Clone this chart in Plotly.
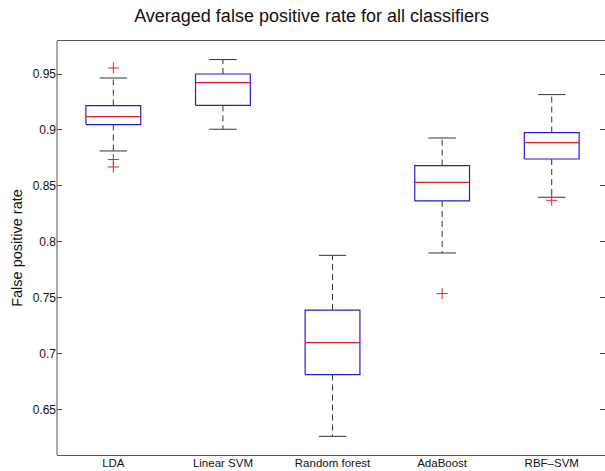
import plotly.graph_objects as go

categories = ["LDA", "Linear SVM", "Random forest", "AdaBoost", "RBF\u2013SVM"]
lower_whisker = [0.8812, 0.9006, 0.6261, 0.7900, 0.8398]
q1 = [0.9048, 0.9220, 0.6813, 0.8365, 0.8740]
median = [0.9119, 0.9423, 0.7099, 0.8532, 0.8887]
q3 = [0.9218, 0.9500, 0.7390, 0.8681, 0.8976]
upper_whisker = [0.9464, 0.9629, 0.7879, 0.8928, 0.9316]
outlier_cat = [0, 0, 0, 3, 4]
outlier_val = [0.9554, 0.8735, 0.8669, 0.7537, 0.8371]
y_ticks = [0.65, 0.70, 0.75, 0.80, 0.85, 0.90, 0.95]
y_tick_labels = ["0.65", "0.7", "0.75", "0.8", "0.85", "0.9", "0.95"]

BOX_HALF = 0.25
CAP_HALF = 0.125
FONT = "Liberation Sans, Arial, Helvetica, sans-serif"

pos = list(range(1, len(categories) + 1))

box_x, box_y = [], []
med_x, med_y = [], []
whisk_x, whisk_y = [], []
cap_x, cap_y = [], []
for i, p in enumerate(pos):
    box_x += [p - BOX_HALF, p + BOX_HALF, p + BOX_HALF, p - BOX_HALF, p - BOX_HALF, None]
    box_y += [q1[i], q1[i], q3[i], q3[i], q1[i], None]
    med_x += [p - BOX_HALF, p + BOX_HALF, None]
    med_y += [median[i], median[i], None]
    whisk_x += [p, p, None, p, p, None]
    whisk_y += [q3[i], upper_whisker[i], None, q1[i], lower_whisker[i], None]
    cap_x += [p - CAP_HALF, p + CAP_HALF, None, p - CAP_HALF, p + CAP_HALF, None]
    cap_y += [upper_whisker[i], upper_whisker[i], None, lower_whisker[i], lower_whisker[i], None]

fig = go.Figure()
fig.add_trace(go.Scatter(x=whisk_x, y=whisk_y, mode="lines",
                         line=dict(color="#333333", width=1, dash="6px,4px"),
                         hoverinfo="skip", showlegend=False))
fig.add_trace(go.Scatter(x=cap_x, y=cap_y, mode="lines",
                         line=dict(color="#333333", width=1),
                         hoverinfo="skip", showlegend=False))
fig.add_trace(go.Scatter(x=box_x, y=box_y, mode="lines",
                         line=dict(color="#2020d0", width=1.2),
                         hoverinfo="skip", showlegend=False))
fig.add_trace(go.Scatter(x=med_x, y=med_y, mode="lines",
                         line=dict(color="#e02020", width=1.2),
                         hoverinfo="skip", showlegend=False))
fig.add_trace(go.Scatter(x=[pos[c] for c in outlier_cat], y=outlier_val, mode="markers",
                         marker=dict(symbol="cross-thin", size=8,
                                     line=dict(color="#e02020", width=1)),
                         hoverinfo="skip", showlegend=False))

fig.add_shape(type="line", xref="paper", yref="paper", x0=0, x1=0, y0=0, y1=1,
              line=dict(color="#555555", width=1))

fig.update_layout(
    width=605, height=471,
    margin=dict(l=57, r=0, t=41, b=16),
    paper_bgcolor="white", plot_bgcolor="white",
    font=dict(family=FONT, color="#111111", size=12),
    hovermode=False,
    title=dict(text="Averaged false positive rate for all classifiers",
               x=0.515, xref="container", xanchor="center",
               y=1 - 16 / 471, yref="container", yanchor="middle",
               font=dict(size=18, color="#111111", family=FONT)),
    xaxis=dict(range=[0.486, 5.486], tickmode="array", tickvals=pos, ticktext=categories,
               showgrid=False, zeroline=False, showline=True, mirror=True,
               linecolor="#555555", linewidth=1, ticks="", ticklabelstandoff=-3,
               tickfont=dict(size=11.5, color="#111111")),
    yaxis=dict(range=[0.6094, 0.9795], tickmode="array", tickvals=y_ticks,
               ticktext=y_tick_labels, showgrid=False, zeroline=False,
               showline=False, mirror="ticks", ticks="inside", ticklen=5,
               tickcolor="#444444", tickwidth=1,
               tickfont=dict(size=12, color="#111111"),
               title=dict(text="False positive rate", font=dict(size=14.5, color="#111111"),
                          standoff=6)),
)

fig.write_html("out.html", config={"displayModeBar": False},
               post_script="document.body.style.margin='0';document.body.style.overflow='hidden';")
